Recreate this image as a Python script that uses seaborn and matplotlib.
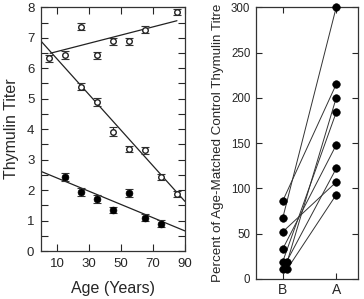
import numpy as np
import pandas as pd
import matplotlib
matplotlib.use("Agg")
import matplotlib.pyplot as plt
from matplotlib.ticker import MultipleLocator
import seaborn as sns

sns.set_theme(style="ticks")
plt.rcParams["font.family"] = ["Liberation Sans", "DejaVu Sans"]

# left panel: thymulin titer by age, three groups
age_up = [5, 15, 25, 35, 45, 55, 65, 85]
titer_up = [6.33, 6.43, 7.37, 6.42, 6.88, 6.88, 7.27, 7.84]
err_up = [0.12, 0.14, 0.12, 0.12, 0.12, 0.12, 0.12, 0.10]

age_mid = [25, 35, 45, 55, 65, 75, 85]
titer_mid = [5.40, 4.88, 3.92, 3.35, 3.30, 2.43, 1.88]
err_mid = [0.13, 0.13, 0.14, 0.10, 0.10, 0.10, 0.10]

age_low = [15, 25, 35, 45, 55, 65, 75]
titer_low = [2.42, 1.95, 1.70, 1.36, 1.90, 1.10, 0.90]
err_low = [0.13, 0.13, 0.13, 0.10, 0.12, 0.12, 0.12]

# regression lines, end points
fit_up_x = [5.5, 85]
fit_up_y = [6.49, 7.56]
fit_mid_x = [0, 90]
fit_mid_y = [6.88, 1.63]
fit_low_x = [0, 90]
fit_low_y = [2.61, 0.66]

# right panel: before / after, percent of age-matched control
before = [86, 67, 52, 33, 19, 19, 11, 11]
after = [215, 300, 107, 148, 184, 200, 122, 93]
groups = ["B", "A"]

fig = plt.figure(figsize=(3.64, 2.99), dpi=100)
ax1 = fig.add_axes([0.1135, 0.1605, 0.3945, 0.815])
ax2 = fig.add_axes([0.703, 0.067, 0.281, 0.9086])

# ---- left
for fx, fy in [(fit_up_x, fit_up_y), (fit_mid_x, fit_mid_y), (fit_low_x, fit_low_y)]:
    sns.lineplot(x=fx, y=fy, ax=ax1, color="#222222", linewidth=0.9)

ax1.errorbar(age_up, titer_up, yerr=err_up, fmt="none", ecolor="#333333",
             elinewidth=0.8, capsize=2.6, capthick=0.8)
ax1.errorbar(age_mid, titer_mid, yerr=err_mid, fmt="none", ecolor="#333333",
             elinewidth=0.8, capsize=2.6, capthick=0.8)
ax1.errorbar(age_low, titer_low, yerr=err_low, fmt="none", ecolor="#333333",
             elinewidth=0.8, capsize=2.6, capthick=0.8)
sns.scatterplot(x=age_up, y=titer_up, ax=ax1, s=16, facecolor="white",
                edgecolor="#222222", linewidth=1.0, zorder=3)
sns.scatterplot(x=age_mid, y=titer_mid, ax=ax1, s=16, facecolor="white",
                edgecolor="#222222", linewidth=1.0, zorder=3)
sns.scatterplot(x=age_low, y=titer_low, ax=ax1, s=24, color="black",
                edgecolor="black", linewidth=0.5, zorder=3)

ax1.set_xlim(0, 90)
ax1.set_ylim(0, 8)
ax1.set_xticks([10, 30, 50, 70, 90])
ax1.set_yticks(range(0, 9))
ax1.yaxis.set_minor_locator(MultipleLocator(0.5))
ax1.tick_params(which="both", direction="in", top=True, right=True,
                length=5, width=0.8, labelsize=9.5, pad=5)
ax1.set_xlabel("Age (Years)", fontsize=11.5, labelpad=8)
ax1.set_ylabel("Thymulin Titer", fontsize=11.5, labelpad=6)

# ---- right
df = pd.DataFrame({
    "subject": list(range(len(before))) * 2,
    "group": ["B"] * len(before) + ["A"] * len(after),
    "value": before + after,
})
df["x"] = df["group"].map({g: i + 1 for i, g in enumerate(groups)})
df["x"] = df["x"] + df.groupby(["group", "value"]).cumcount() * 0.085

sns.lineplot(data=df, x="x", y="value", units="subject", estimator=None,
             ax=ax2, color="#333333", linewidth=0.7)
sns.scatterplot(data=df, x="x", y="value", ax=ax2, s=30, color="black",
                edgecolor="black", linewidth=0.4, zorder=3, clip_on=False)

ax2.set_xlim(0.5, 2.41)
ax2.set_ylim(0, 300)
ax2.set_xticks([1, 2])
ax2.set_xticklabels(groups)
ax2.set_yticks(range(0, 301, 50))
ax2.tick_params(direction="in", top=True, right=True, length=4, width=0.8,
                labelsize=8.3, pad=4)
ax2.tick_params(axis="x", labelsize=10, pad=3)
ax2.set_xlabel("")
ax2.set_ylabel("Percent of Age-Matched Control Thymulin Titre", fontsize=9.6,
               labelpad=5)

for ax in (ax1, ax2):
    for sp in ax.spines.values():
        sp.set_linewidth(0.9)
        sp.set_color("#333333")

fig.savefig("out.png", dpi=100)
